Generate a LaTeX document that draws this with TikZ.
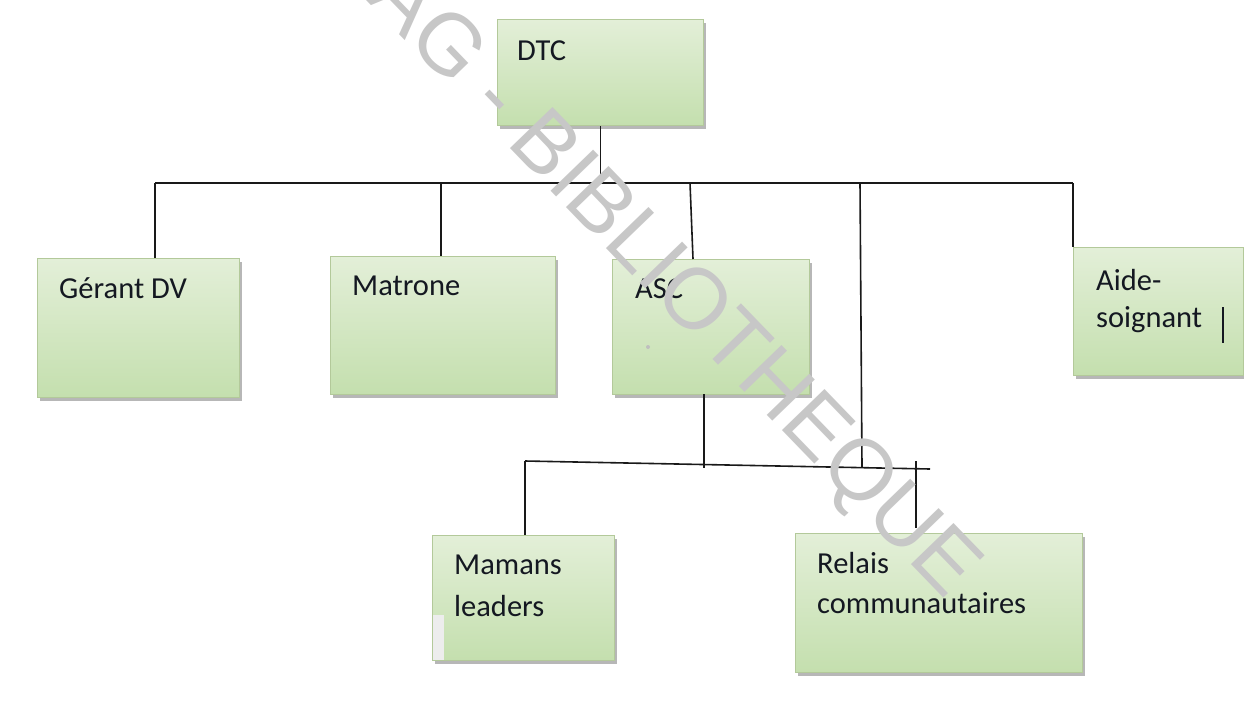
\documentclass[tikz,border=0pt]{standalone}
\usepackage{fontspec}
\setmainfont{Carlito}
\newfontfamily\wmfont{Liberation Sans}
\usetikzlibrary{shadows,calc}
\definecolor{boxtop}{HTML}{E3EFD8}
\definecolor{boxmid}{HTML}{F2F8EC}
\definecolor{boxbot}{HTML}{C4DFAE}
\definecolor{boxedge}{HTML}{B3C99A}
\definecolor{txt}{HTML}{141821}
\begin{document}
\begin{tikzpicture}[x=1pt,y=-1pt,
  orgbox/.style={draw=boxedge, line width=1pt, top color=boxtop, middle color=boxmid, bottom color=boxbot,
    drop shadow={shadow xshift=2pt,shadow yshift=-3pt,fill=black!35,opacity=0.8},
    inner sep=0pt, anchor=north west},
  lbl/.style={anchor=base west, inner sep=0pt, font=\fontsize{30.5}{37}\selectfont, text=txt},
  conn/.style={line width=1.6pt, draw=black!90},
  wm/.style={inner sep=0pt, font=\wmfont\fontsize{86}{86}\selectfont, text=black!22}]
\useasboundingbox (0,0) rectangle (1244,720);
\fill[white] (0,0) rectangle (1244,720);

% boxes
\node[orgbox, minimum width=206pt, minimum height=106pt] (dtc) at (497,19) {};
\node[orgbox, minimum width=202pt, minimum height=139pt] (gerant) at (37,258) {};
\node[orgbox, minimum width=225pt, minimum height=138pt] (matrone) at (330,256) {};
\node[orgbox, minimum width=197pt, minimum height=135pt] (asc) at (612,259) {};
\node[orgbox, minimum width=170pt, minimum height=128pt] (aide) at (1073,247) {};
\node[orgbox, minimum width=182pt, minimum height=125pt] (mamans) at (432,535) {};
\node[orgbox, minimum width=287pt, minimum height=139pt] (relais) at (795,533) {};
\fill[black!7] ($(mamans.south west)+(1,-1)$) rectangle ($(mamans.south west)+(12,-46)$);
\fill[black!25] ($(asc.north west)+(36,88)$) circle (2pt);

% labels
\node[lbl] (tdtc) at (517,60) {DTC};
\node[lbl] (tgerant) at (59,298) {Gérant DV};
\node[lbl] (tmatrone) at (352,295) {Matrone};
\node[lbl] (tasc) at (635,298) {ASC};
\node[lbl] (taide1) at (1096,290) {Aide-};
\node[lbl] (taide2) at (1096,327) {soignant};
\node[lbl] (tmam1) at (454,574) {Mamans};
\node[lbl] (tmam2) at (454,616) {leaders};
\node[lbl] (trel1) at (817,573) {Relais};
\node[lbl] (trel2) at (817,613) {communautaires};
\coordinate (cur1) at (1223,307);
\coordinate (cur2) at (1223,343);
\draw[line width=1.3pt, txt] (cur1) -- (cur2);

% connectors
\coordinate (busL) at (155,183);
\coordinate (busR) at (1073,183);
\coordinate (busM) at (441,183);
\coordinate (busA) at (690,183);
\coordinate (ascIn) at (693,259);
\coordinate (busV) at (860,183);
\coordinate (busVend) at (862,467);
\coordinate (lbL) at (525,461);
\coordinate (lbR) at (930,469);
\coordinate (ascOut) at (704,394);
\coordinate (ascOutEnd) at (704,468);
\coordinate (rel1) at (916,461);
\coordinate (rel2) at (916,528);

\draw[conn] (dtc.south) -- (dtc.south |- busL);
\draw[conn] (busL) -- (busR);
\draw[conn] (busL) -- (busL |- gerant.north);
\draw[conn] (busM) -- (busM |- matrone.north);
\draw[conn] (busA) -- (ascIn);
\draw[conn] (busV) -- (busVend);
\draw[conn] (busR) -- (busR |- aide.north);
\draw[conn] (ascOut) -- (ascOutEnd);
\draw[conn] (lbL) -- (lbR);
\draw[conn] (lbL) -- (lbL |- mamans.north);
\draw[conn] (rel1) -- (rel2);

% watermark
\begin{scope}
\clip (0,0) rectangle (1244,720);
\node[wm, rotate=-46] (wmark) at (672,285) {AG - BIBLIOTHEQUE};
\end{scope}
\end{tikzpicture}
\end{document}
